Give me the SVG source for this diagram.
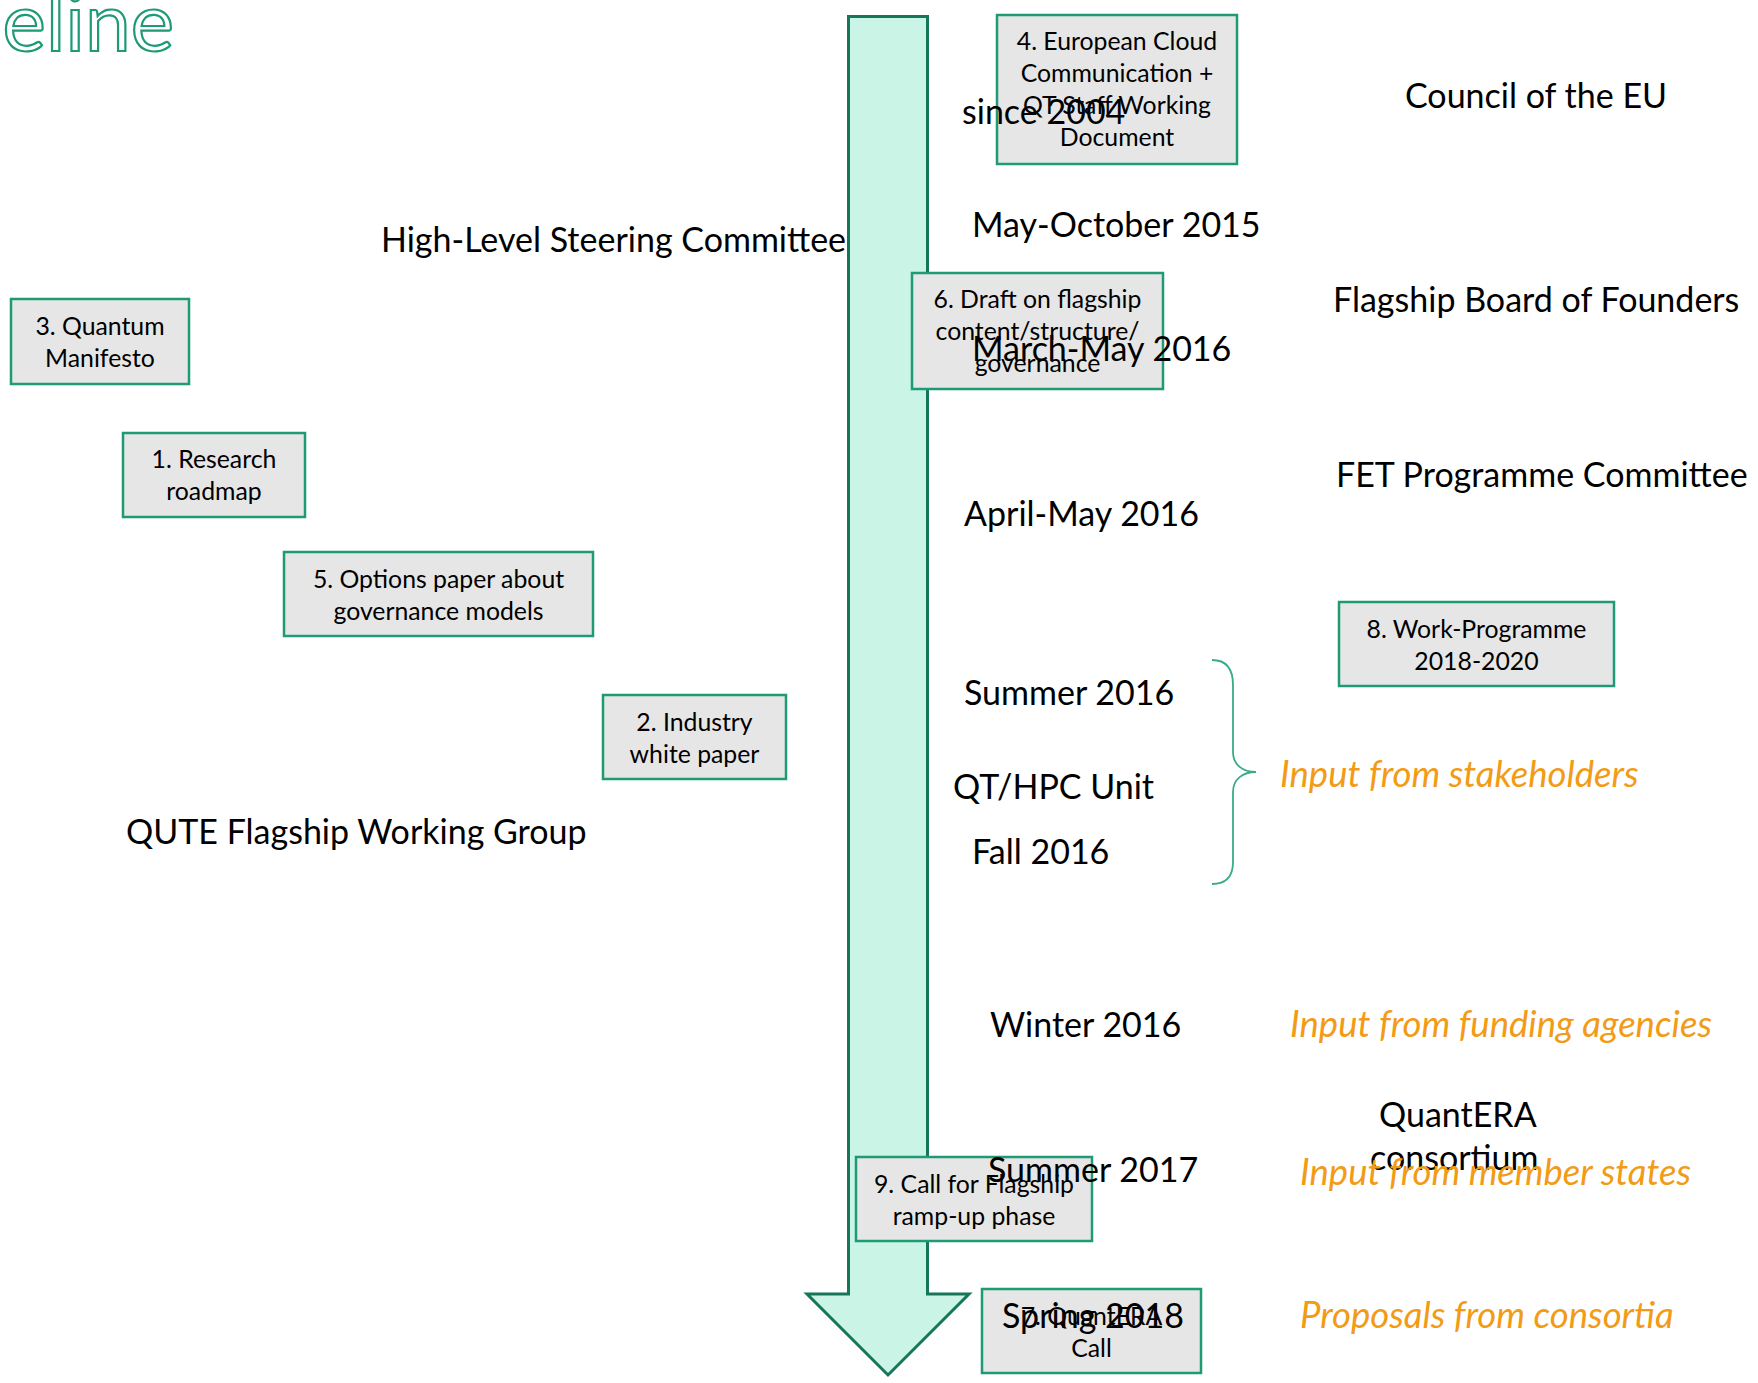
<svg xmlns="http://www.w3.org/2000/svg" width="1758" height="1383" viewBox="0 0 1758 1383">
  <style>
    text { font-family: Lato, "Open Sans", "Liberation Sans", sans-serif; fill: #000; }
    .big { font-size: 34px; }
    .note { font-size: 36.5px; font-style: italic; fill: #f29b16; }
    .lbl { font-size: 24.8px; text-anchor: middle; }
    .box rect { fill: #e6e6e6; stroke: #1f9a76; stroke-width: 2.5; }
    .title { font-size: 82px; fill: #fff; stroke: #1f9a76; stroke-width: 2.2; text-anchor: end; }
  </style>

  <!-- heading, partially cut at the left edge -->
  <text class="title" x="174" y="51">eline</text>

  <!-- timeline arrow -->
  <g id="connectors">
    <path id="timeline-arrow" d="M848.5,16.5 H927.5 V1294 H969 L888,1375 L807,1294 H848.5 Z" fill="#c9f4e6" stroke="#16765a" stroke-width="3" stroke-linejoin="miter"/>
    <path id="stakeholder-brace" d="M1212,660 C1226,660 1233,668 1233,685 L1233,752 C1233,765 1243,772 1256,772 C1243,772 1233,779 1233,792 L1233,862 C1233,876 1226,884 1212,884" fill="none" stroke="#3aab8a" stroke-width="1.8"/>
  </g>

  <!-- document boxes -->
  <g id="n3" class="box">
    <rect x="11" y="299" width="178" height="85"/>
    <text class="lbl" x="100" y="335">3. Quantum</text>
    <text class="lbl" x="100" y="367">Manifesto</text>
  </g>
  <g id="n1" class="box">
    <rect x="123" y="433" width="182" height="84"/>
    <text class="lbl" x="214" y="468">1. Research</text>
    <text class="lbl" x="214" y="500">roadmap</text>
  </g>
  <g id="n5" class="box">
    <rect x="284" y="552" width="309" height="84"/>
    <text class="lbl" x="438.5" y="588">5. Options paper about</text>
    <text class="lbl" x="438.5" y="620">governance models</text>
  </g>
  <g id="n2" class="box">
    <rect x="603" y="695" width="183" height="84"/>
    <text class="lbl" x="694.5" y="731">2. Industry</text>
    <text class="lbl" x="694.5" y="763">white paper</text>
  </g>
  <g id="n4" class="box">
    <rect x="997" y="15" width="240" height="149"/>
    <text class="lbl" x="1117" y="50">4. European Cloud</text>
    <text class="lbl" x="1117" y="82">Communication +</text>
    <text class="lbl" x="1117" y="114">QT Staff Working</text>
    <text class="lbl" x="1117" y="146">Document</text>
  </g>
  <g id="n6" class="box">
    <rect x="912" y="273" width="251" height="116"/>
    <text class="lbl" x="1037.5" y="308">6. Draft on flagship</text>
    <text class="lbl" x="1037.5" y="340">content/structure/</text>
    <text class="lbl" x="1037.5" y="372">governance</text>
  </g>
  <g id="n8" class="box">
    <rect x="1339" y="602" width="275" height="84"/>
    <text class="lbl" x="1476.5" y="638">8. Work-Programme</text>
    <text class="lbl" x="1476.5" y="670">2018-2020</text>
  </g>
  <g id="n9" class="box">
    <rect x="856" y="1157" width="236" height="84"/>
    <text class="lbl" x="974" y="1193">9. Call for Flagship</text>
    <text class="lbl" x="974" y="1225">ramp-up phase</text>
  </g>
  <g id="n7" class="box">
    <rect x="982" y="1289" width="219" height="84"/>
    <text class="lbl" x="1091.5" y="1325">7. QuantERA</text>
    <text class="lbl" x="1091.5" y="1357">Call</text>
  </g>

  <!-- actors -->
  <g id="actors">
    <text class="big" x="1405" y="108">Council of the EU</text>
    <text class="big" x="381" y="252">High-Level Steering Committee</text>
    <text class="big" x="1333" y="312">Flagship Board of Founders</text>
    <text class="big" x="1336" y="487">FET Programme Committee</text>
    <text class="big" x="953" y="799">QT/HPC Unit</text>
    <text class="big" x="126" y="844">QUTE Flagship Working Group</text>
    <text class="big" x="1379" y="1127">QuantERA</text>
    <text class="big" x="1370" y="1170">consortium</text>
  </g>

  <!-- dates along the arrow -->
  <g id="dates">
    <text class="big" x="962" y="124">since 2004</text>
    <text class="big" x="972" y="237">May-October 2015</text>
    <text class="big" x="972" y="361">March-May 2016</text>
    <text class="big" x="964" y="526">April-May 2016</text>
    <text class="big" x="964" y="705">Summer 2016</text>
    <text class="big" x="972" y="864">Fall 2016</text>
    <text class="big" x="990" y="1037">Winter 2016</text>
    <text class="big" x="988" y="1182">Summer 2017</text>
    <text class="big" x="1002" y="1328">Spring 2018</text>
  </g>

  <!-- inputs -->
  <g id="inputs">
    <text class="note" x="1280" y="787">Input from stakeholders</text>
    <text class="note" x="1290" y="1037">Input from funding agencies</text>
    <text class="note" x="1300" y="1185">Input from member states</text>
    <text class="note" x="1300" y="1328">Proposals from consortia</text>
  </g>
</svg>
